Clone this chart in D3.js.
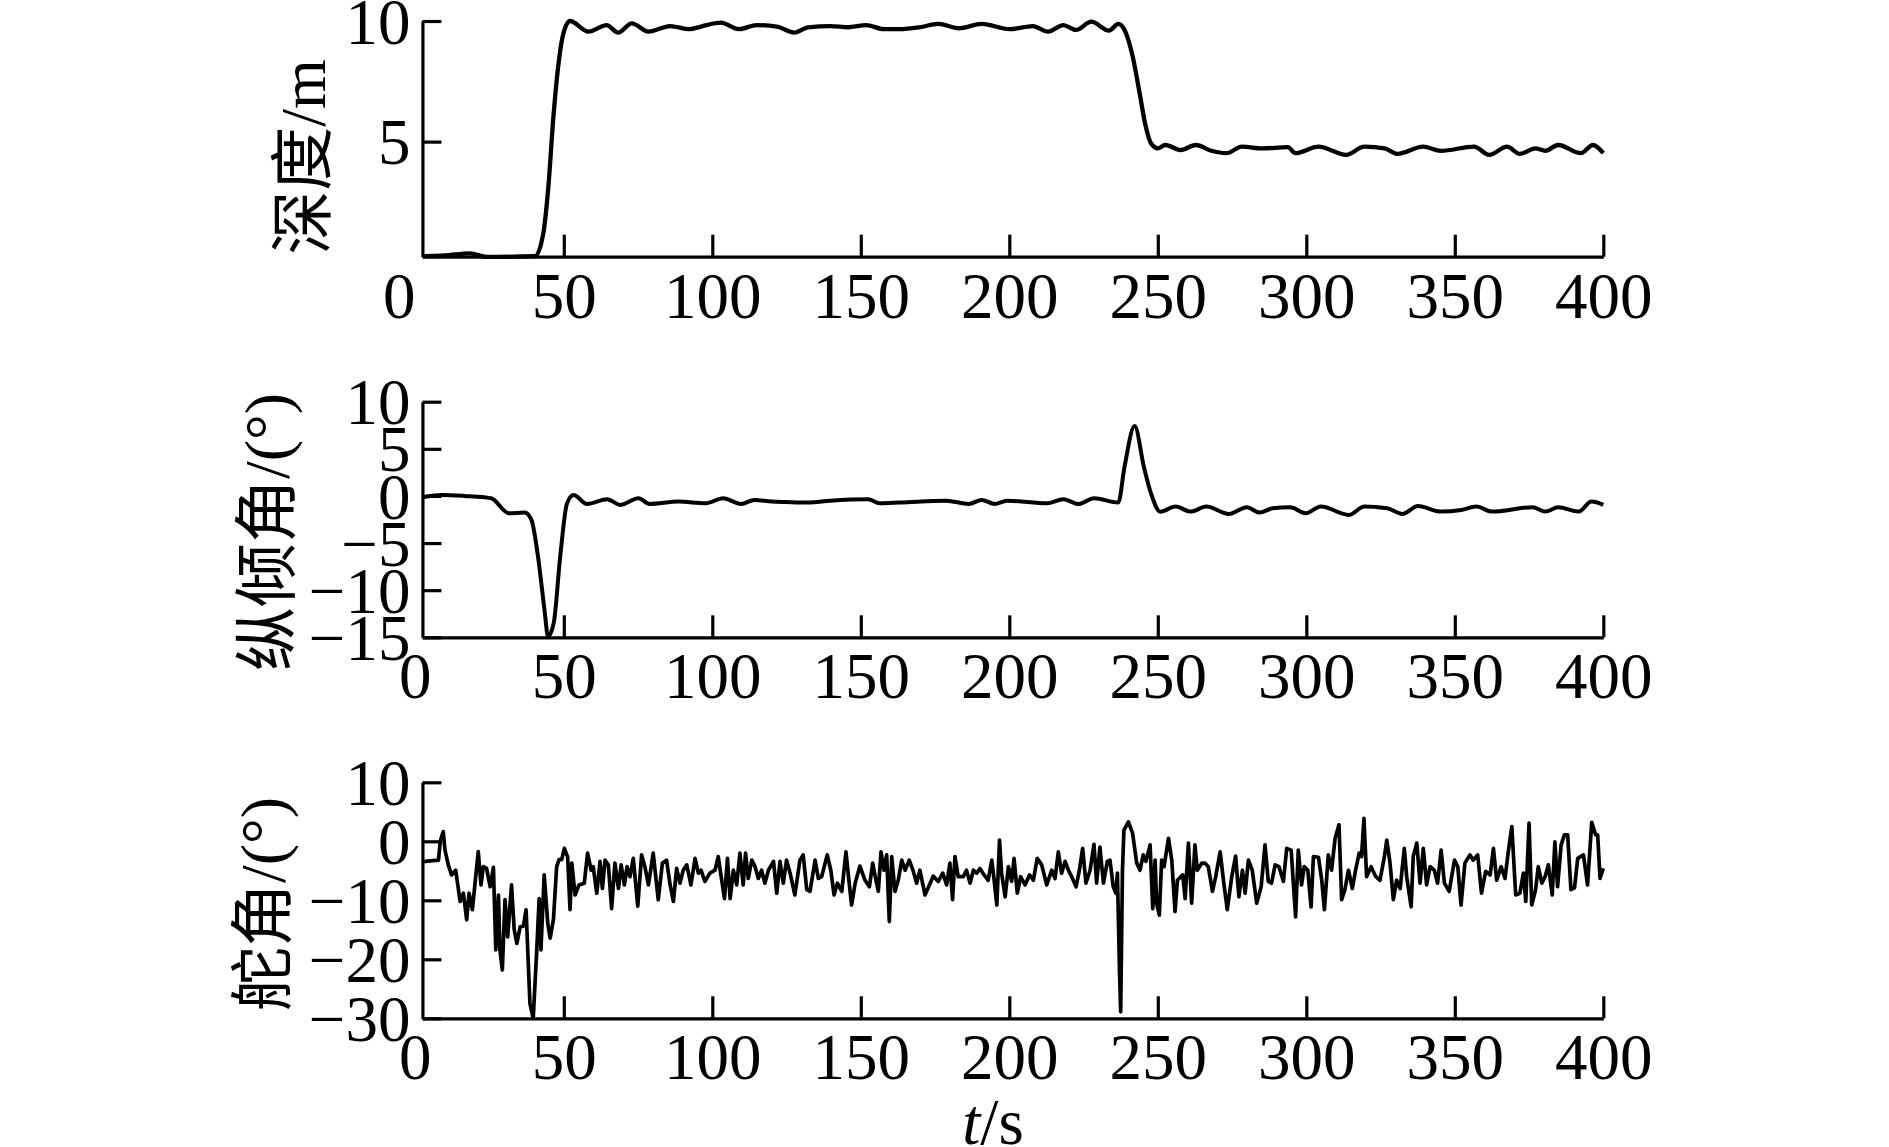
<!DOCTYPE html>
<html>
<head>
<meta charset="utf-8">
<script src="https://cdn.jsdelivr.net/npm/d3@7"></script>
<style>
  body { margin: 0; background: #fff; }
  svg text { font-family: "Liberation Serif", "Times New Roman", "Noto Sans CJK SC", serif; fill: #000; }
</style>
</head>
<body>
<svg id="chart" width="1889" height="1147"></svg>
<script>
// time axis
const xTicks = [50, 100, 150, 200, 250, 300, 350, 400]
const xStart = 2.4

// depth (m), [t, value]
const depth = [[2.4,0.25],[10,0.28],[18.4,0.37],[24,0.22],[40.3,0.25],[43.1,1.2],[44.8,3.13],[46.5,6.03],[48.1,8.1],[49.6,9.35],
  [52.1,10.0],[58.3,9.56],[64.4,9.83],[68.3,9.52],[72.9,9.9],[78.5,9.56],[85.8,9.79],[92.4,9.66],[96.2,9.77],[102.9,9.93],
  [108.9,9.66],[115,9.83],[121.7,9.77],[127.7,9.52],[132.2,9.74],[139.8,9.79],[145.8,9.74],[151.8,9.83],[157.8,9.66],[163,9.66],
  [169.8,9.74],[176.1,9.88],[183,9.7],[190.7,9.88],[200.1,9.66],[207.9,9.79],[213,9.56],[218.2,9.83],[222.5,9.63],[227.6,9.97],
  [233.6,9.6],[236.7,9.88],[238.8,9.63],[241.3,8.66],[243.9,7.0],[245.7,5.76],[247.7,4.93],[250,4.72],[252.5,4.86],[257.7,4.65],
  [262.8,4.86],[268,4.62],[273.1,4.52],[278.3,4.79],[285.2,4.72],[293.8,4.77],[296.3,4.52],[304.1,4.79],[313.5,4.45],[319.5,4.79],
  [326.4,4.72],[330.7,4.49],[339.3,4.79],[345.3,4.62],[356.5,4.79],[361.6,4.45],[367.6,4.79],[371.9,4.49],[377.1,4.72],[380.5,4.62],
  [384.8,4.86],[392.5,4.52],[396.5,4.86],[400,4.52]]

// pitch angle (deg)
const pitch = [[2.4,-0.14],[9,0.1],[16.5,0],[25.5,-0.24],[31.5,-1.83],[36.8,-1.77],[39.1,-2.54],[41.3,-6.4],[43.5,-12.1],[44.7,-14.9],
  [46.6,-13.5],[48.8,-6.4],[51.1,-0.77],[53.3,0.1],[57.8,-0.85],[64.6,-0.35],[69.1,-0.95],[75.1,-0.25],[78.9,-0.85],[88.6,-0.6],
  [97.7,-0.77],[103.7,-0.25],[109.7,-0.85],[114.2,-0.42],[120,-0.6],[125,-0.65],[132.2,-0.7],[139.8,-0.5],[152.5,-0.35],[156.3,-0.77],
  [163.2,-0.7],[178.7,-0.5],[186.4,-0.85],[190.7,-0.42],[195,-0.85],[199.2,-0.5],[213,-0.77],[218.2,-0.35],[223.3,-0.85],[228.5,-0.25],
  [236.7,-0.7],[238.8,3.1],[242.2,7.42],[245.3,3.1],[247.7,0.28],[250.8,-1.67],[256,-1.13],[261.1,-1.66],[266.3,-1.13],[274,-1.91],
  [280,-1.2],[284.3,-1.77],[288.6,-1.31],[294.6,-1.2],[299.8,-1.84],[304.9,-1.13],[314.4,-2.01],[319.5,-1.13],[327.2,-1.31],[332.4,-1.91],
  [337.6,-1.06],[345.3,-1.66],[352.2,-1.49],[357.3,-1.13],[362.5,-1.66],[376.2,-1.2],[380.5,-1.66],[384.8,-1.2],[391.7,-1.66],[396,-0.6],
  [400,-0.95]]

// rudder angle (deg)
const rudder = [[2.4,-3.45],[7.8,-3.2],[8.4,0],[9.4,1.64],[10,-1.5],[11.1,-4],[12.2,-5.7],[13.6,-4.9],[15.1,-10.2],[16.2,-8.8],
  [17.3,-13.3],[18.1,-8.8],[19.2,-11.6],[21.2,-1.75],[22.1,-7.4],[22.9,-4.3],[24,-4.6],[25.2,-7.7],[26.3,-4.4],[27.1,-18.4],
  [28,-9.1],[28.5,-18.4],[29.3,-21.8],[30.2,-9.9],[31.1,-16.2],[32.4,-7.4],[33.3,-15],[34.2,-17.3],[35.3,-14.5],[36.4,-14.4],
  [37.3,-11.6],[38.6,-27.5],[39.7,-30],[40.9,-18.4],[41.7,-9.7],[42.3,-18.4],[43.4,-5.7],[44.6,-13.9],[45.4,-16.4],[46.5,-13.3],
  [47.6,-4.3],[48.4,-3.1],[49.3,-3.1],[50.2,-1.2],[51.3,-2.7],[52.1,-11.6],[52.7,-3.7],[53.8,-9.1],[55.1,-7.4],[56.9,-7.1],
  [58,-2],[59.2,-4.9],[59.9,-4.3],[61.1,-8.8],[62.2,-3.4],[63,-8],[63.9,-3.2],[65,-4],[66.1,-11.4],[67.2,-3.7],
  [68.4,-8],[69.3,-4],[70.4,-7.4],[71.3,-4.3],[72.3,-6],[73.4,-2.9],[74.9,-11],[76.2,-2.3],[77.3,-4.3],[78.5,-7.4],
  [80.1,-2],[81.8,-9.9],[83.2,-3.7],[84.6,-3.2],[85.8,-7.4],[86.9,-10.2],[88,-4.6],[89.1,-7.1],[90.2,-4.9],[91.4,-4],
  [92.8,-7.4],[94.2,-2.9],[95.3,-5.4],[96.2,-4.9],[97.5,-6.8],[99.2,-5.4],[100.9,-4.9],[102,-2.6],[102.9,-5.7],[104.1,-9.7],
  [105.1,-2.9],[106,-9.7],[107.1,-4.9],[108.2,-7.4],[109.3,-2],[110.4,-7.4],[111.2,-2],[112.1,-6.3],[113.3,-3.2],[114.4,-4.3],
  [115.5,-6.3],[116.6,-4.9],[117.7,-7.1],[118.9,-4.9],[120.6,-3.4],[121.7,-8.8],[122.8,-3.4],[123.9,-7.1],[125,-3.2],[126.2,-5.4],
  [127.8,-9.1],[129.5,-3.2],[130.6,-2.3],[131.8,-8.2],[132.9,-8.5],[134.6,-3.2],[135.7,-6.3],[136.8,-6],[138.7,-2.3],[139.9,-4.9],
  [141,-9.1],[142.1,-7.1],[143.6,-8.5],[145,-1.8],[146.1,-7.1],[146.9,-10.8],[148.1,-7.1],[149.7,-4.2],[151.4,-6.6],[152.9,-7.7],
  [154,-3.7],[155.1,-6.6],[155.9,-8.5],[156.8,-1.8],[157.8,-4.9],[158.7,-2.3],[159.6,-13.6],[160.4,-2.6],[161.5,-8.5],[162.6,-6.6],
  [163.8,-3.2],[164.9,-4.9],[166.3,-3.2],[167.7,-5.1],[168.8,-7.1],[169.9,-4.9],[171.6,-9.1],[173.1,-7.4],[174.4,-5.9],[176.1,-6.8],
  [177.6,-5.4],[178.9,-7.4],[180,-3.7],[180.9,-9.9],[181.7,-2.6],[182.8,-6],[184.5,-6],[185.6,-4.9],[186.8,-7.1],[187.9,-4.9],
  [189,-5.4],[190.1,-4.6],[191.5,-5.7],[192.9,-6.6],[194.1,-3.2],[194.9,-6.6],[195.8,-10.8],[196.7,0.2],[197.4,-5.4],[198.6,-9.4],
  [199.7,-4.3],[200.8,-6.8],[201.6,-2.9],[202.7,-8.8],[203.8,-6],[205.3,-7.4],[206.8,-5.7],[208.1,-6.6],[209.4,-2.9],[210.9,-4],
  [212.6,-7.4],[214.3,-4.9],[215.4,-6.3],[216.5,-1.8],[217.6,-5.4],[218.8,-3.4],[219.9,-4.9],[221,-6],[222.5,-7.7],[223.6,-4.9],
  [224.7,-1.2],[225.8,-7.1],[227.2,-4.9],[228.5,-0.5],[229.4,-7.1],[230.5,-1],[231.7,-7.1],[233,-3.4],[233.9,-3.2],[235,-7.7],
  [235.9,-8.8],[236.4,-5.4],[237.1,-21.8],[237.5,-28.9],[238.1,-4.9],[238.6,1.9],[240.1,3.3],[241.5,1.4],[242.9,-3.7],[244,-4.9],
  [245.1,-2.3],[246,-3.4],[247.4,-0.6],[248.3,-11.4],[249.1,-3.2],[249.6,-10.5],[250.5,-12.5],[251.3,-3.2],[252.1,-4.3],[253.6,0.5],
  [254.7,-3.2],[255.8,-11.9],[256.6,-6.6],[258.4,-5.7],[259.2,-9.7],[260.3,-0.3],[261.4,-10.5],[262.5,-0.6],[263.3,-4.9],[264.8,-3.7],
  [265.9,-3.7],[267,-4.3],[268.4,-8.5],[269.5,-6],[271,-1.8],[272.1,-6.6],[273.4,-11.6],[274.9,-6],[276.2,-2.5],[277.3,-9.4],
  [278.5,-4.9],[279.4,-8.8],[280.5,-3.2],[281.8,-4.9],[283.3,-10.5],[284.8,-7.7],[286.1,-0.6],[287.2,-6.8],[288.3,-7.1],[289.5,-4],
  [290.8,-4.3],[292.3,-6.8],[293.4,-1.2],[294.9,-1.5],[295.6,-6.8],[296.4,-12.8],[297.3,-1.5],[298.4,-7.4],[299.3,-4.3],[300.5,-4.9],
  [301.6,-11.1],[302.4,-2.6],[304.1,-2.7],[305.2,-6.6],[306.1,-11.6],[307.4,-2.3],[308.5,-4.9],[309.7,0.5],[311,2.8],[311.9,-9.9],
  [313,-8.2],[314.2,-4.9],[315.5,-8],[316.6,-4.9],[317.8,-2],[318.6,-2.6],[319.4,3.9],[320.3,-6],[321.8,-4.3],[323.4,-6],
  [324.8,-6.6],[326.3,-2.6],[327.1,0.2],[328.2,-3.7],[329.3,-9.9],[330.4,-6.6],[331.6,-8],[333,-1.2],[333.8,-6],[335.3,-11.1],
  [336,-2.6],[337.2,-0.3],[338.3,-7.1],[339.4,-1.2],[340.5,-7.4],[341.7,-4.3],[343.1,-4.9],[344.2,-7.1],[345.4,-1.5],[346.5,-7.1],
  [348.1,-8.5],[349.9,-3.2],[351,-4.3],[352.1,-10.8],[353.4,-3.7],[355.1,-2.3],[356.2,-3.2],[357.7,-2.3],[359,-8.8],[360.4,-5.1],
  [361.9,-5.7],[363,-1.2],[364.1,-6.6],[365.6,-4.3],[366.9,-6.3],[368,-1.8],[369.2,2.5],[370.5,-9.1],[371.9,-8.8],[373.1,-5.4],
  [373.9,-10.2],[375,3.1],[375.9,-10.8],[377.2,-8.2],[378.1,-4.3],[379.3,-7.1],[380.4,-6],[381.5,-4],[382.8,-9.1],[383.7,-0.1],
  [384.6,-7.7],[385.8,-0.6],[386.9,1.1],[388,1.1],[389.1,-8.2],[390.3,-7.9],[391.4,-2.9],[393.3,-2.3],[394.7,-7.4],[396.1,3.2],
  [397.4,1.1],[398.1,1.1],[398.9,-6.3],[400,-4.6]]

const depthTicks = [5, 10]
const pitchTicks = [-15, -10, -5, 0, 5, 10]
const rudderTicks = [-30, -20, -10, 0, 10]
const titles = ["深度/m", "纵倾角/(°)", "舵角/(°)"]

let width = 1889,
  height = 1147,
  svg = d3.select("#chart"),
  x = d3.scaleLinear().domain([0, 400]).range([415.3, 1603.3]),
  fontSize = 65

let panels = [
  {data: depth, yDomain: [0.23, 10], yRange: [256.7, 21], ticks: depthTicks, title: titles[0],
   titlePos: [302, 157], zeroDx: -16, curve: d3.curveMonotoneX, lw: 4.3},
  {data: pitch, yDomain: [-15, 10], yRange: [637.3, 401.7], ticks: pitchTicks, title: titles[1],
   titlePos: [266, 532], zeroDx: 0, curve: d3.curveMonotoneX, lw: 4.0},
  {data: rudder, yDomain: [-30, 10], yRange: [1018.3, 782.3], ticks: rudderTicks, title: titles[2],
   titlePos: [262, 904], zeroDx: 0, curve: d3.curveLinear, lw: 3.7}
]

function fmt(d) {
  return d < 0 ? "\u2212" + Math.abs(d) : String(d)
}

function style_axis(g) {
  g.attr("font-size", null).attr("font-family", null)
  g.select(".domain").attr("stroke", "#000").attr("stroke-width", 3.2)
  g.selectAll(".tick line").attr("stroke", "#000").attr("stroke-width", 3.2)
  g.selectAll("text").style("font-size", fontSize + "px")
}

function draw_panel(p) {
  let y = d3.scaleLinear().domain(p.yDomain).range(p.yRange)
  let xa = d3.scaleLinear().domain([xStart, 400]).range([x(xStart), x(400)])
  let g = svg.append("g")

  let yAxis = g.append("g")
    .attr("transform", `translate(${x(xStart)},0)`)
    .call(d3.axisLeft(y).tickValues(p.ticks).tickFormat(fmt)
      .tickSizeInner(-19).tickSizeOuter(0).tickPadding(12))
  style_axis(yAxis)
  yAxis.selectAll("text").attr("dy", "0.34em")

  let xAxis = g.append("g")
    .attr("transform", `translate(0,${p.yRange[0]})`)
    .call(d3.axisBottom(xa).tickValues(xTicks).tickFormat(d3.format("d"))
      .tickSizeInner(-22).tickSizeOuter(0))
  style_axis(xAxis)
  xAxis.selectAll("text").attr("y", 61).attr("dy", null)

  // the "0" of the time axis sits left of the corner
  g.append("text")
    .attr("x", x(0) + p.zeroDx)
    .attr("y", p.yRange[0] + 61)
    .attr("text-anchor", "middle")
    .style("font-size", fontSize + "px")
    .text("0")

  let line = d3.line()
    .x(d => x(d[0]))
    .y(d => y(d[1]))
    .curve(p.curve)

  g.append("path")
    .datum(p.data)
    .attr("d", line)
    .attr("fill", "none")
    .attr("stroke", "#000")
    .attr("stroke-width", p.lw)
    .attr("stroke-linejoin", "round")

  g.append("text")
    .attr("transform", `translate(${p.titlePos[0]},${p.titlePos[1]}) rotate(-90)`)
    .attr("text-anchor", "middle")
    .attr("dy", "0.36em")
    .style("font-size", "64px")
    .text(p.title)
}

svg.append("rect").attr("width", width).attr("height", height).attr("fill", "#fff")
panels.forEach(draw_panel)

let xt = svg.append("text")
  .attr("x", 993)
  .attr("y", 1144)
  .attr("text-anchor", "middle")
  .style("font-size", fontSize + "px")
xt.append("tspan").style("font-style", "italic").text("t")
xt.append("tspan").text("/s")
</script>
</body>
</html>
